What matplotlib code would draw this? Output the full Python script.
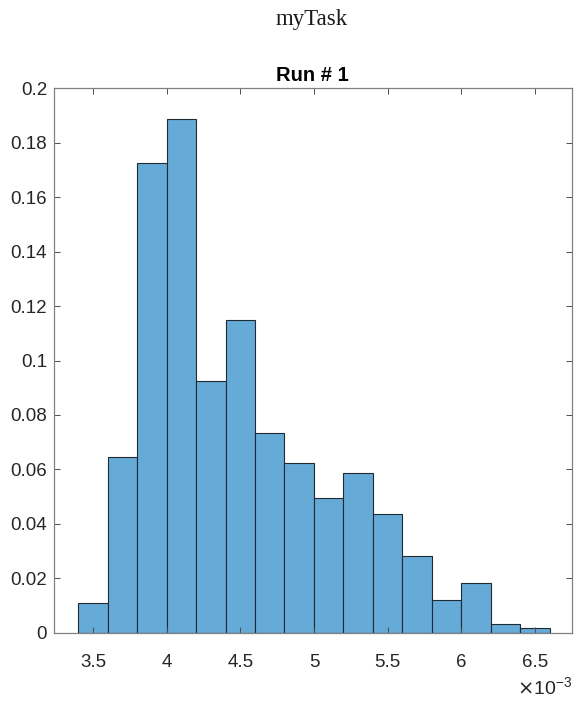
import numpy as np
import matplotlib.pyplot as plt
from matplotlib.ticker import FuncFormatter

# bin edges (seconds) and probability per bin
bin_edges = [0.0034, 0.0036, 0.0038, 0.0040, 0.0042, 0.0044, 0.0046, 0.0048,
             0.0050, 0.0052, 0.0054, 0.0056, 0.0058, 0.0060, 0.0062, 0.0064, 0.0066]
probs = [0.011, 0.0646, 0.1725, 0.1886, 0.0925, 0.1149, 0.0735, 0.0623,
         0.0494, 0.0586, 0.0436, 0.0283, 0.0121, 0.0183, 0.0033, 0.0018]
xticks = [0.0035, 0.0040, 0.0045, 0.0050, 0.0055, 0.0060, 0.0065]
yticks = np.arange(0, 0.2001, 0.02)

fig = plt.figure(figsize=(5.76, 7.04), dpi=100)
ax = fig.add_axes([54 / 576, 1 - 632.7 / 704, (571.7 - 54) / 576, (632.7 - 88.3) / 704])

edges = np.array(bin_edges)
ax.bar(edges[:-1], probs, width=np.diff(edges), align='edge',
       color='#66aad7', edgecolor='#1f2a33', linewidth=0.8)

ax.set_xlim(0.003235, 0.00675)
ax.set_ylim(0, 0.2)
ax.set_xticks(xticks)
ax.set_yticks(yticks)
ax.xaxis.set_major_formatter(FuncFormatter(lambda v, p: f"{v * 1e3:g}"))
ax.yaxis.set_major_formatter(FuncFormatter(lambda v, p: f"{round(v, 2):g}"))

ax.tick_params(direction='in', length=4, width=0.7, color='#4d4d4d',
               top=True, right=True, labelsize=13.5, labelcolor='#262626',
               labelfontfamily='Liberation Sans')
ax.tick_params(axis='x', pad=15)
ax.tick_params(axis='y', pad=5)
for s in ax.spines.values():
    s.set_color('#808080')
    s.set_linewidth(0.9)

ax.set_title('Run # 1', fontsize=14.5, fontweight='bold', family='Liberation Sans',
             color='black', pad=5)
fig.text(312 / 576, 1 - 20 / 704, 'myTask', ha='center', va='center',
         fontsize=16.5, family='Liberation Serif', color='#1a1a1a')
fig.text(572 / 576, 1 - 688 / 704, r'$\times$10$^{\mathregular{-3}}$', ha='right',
         va='center', fontsize=14, family='Liberation Sans', color='#262626')

fig.savefig('out.png', dpi=100)
